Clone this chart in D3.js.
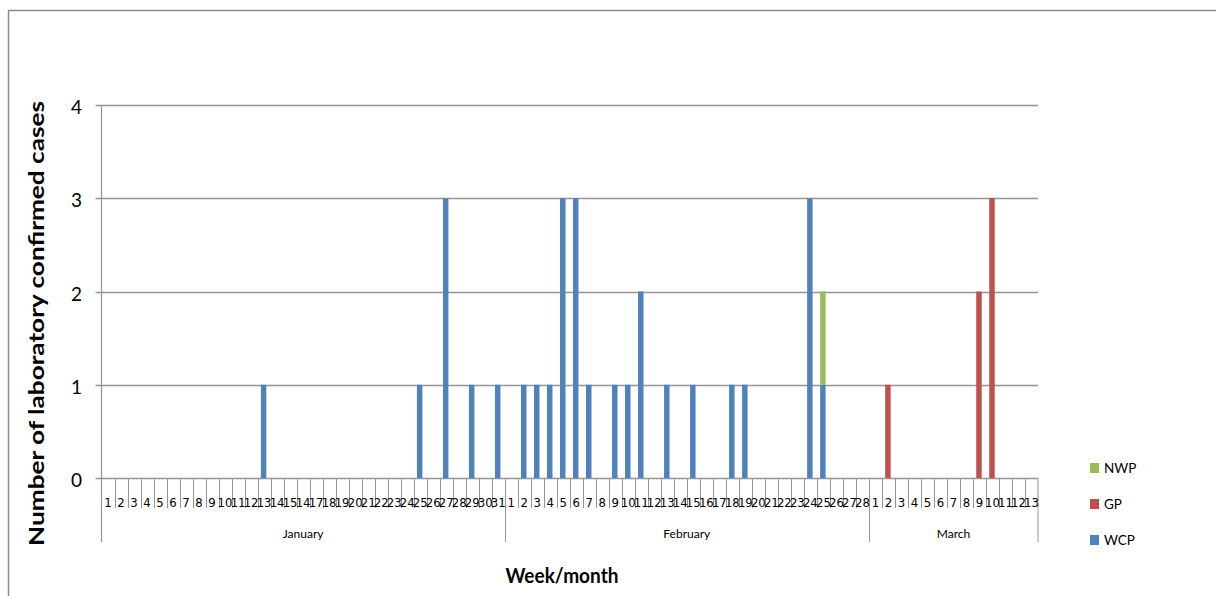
<!DOCTYPE html>
<html>
<head>
<meta charset="utf-8">
<script src="https://cdn.jsdelivr.net/npm/d3@7/dist/d3.min.js"></script>
<style>
  html, body { margin: 0; padding: 0; background: #fff; }
  svg { display: block; }
</style>
</head>
<body>
<svg id="chart" width="1216" height="596"></svg>
<script>
// ---- Data ----
const months = ["January", "February", "March"];
const janDays = ["1","2","3","4","5","6","7","8","9","10","11","12","13","14","15","14","17","18","19","20","21","22","23","24","25","26","27","28","29","30","31"];
const febDays = ["1","2","3","4","5","6","7","8","9","10","11","12","13","14","15","16","17","18","19","20","21","22","23","24","25","26","27","28"];
const marDays = ["1","2","3","4","5","6","7","8","9","10","11","12","13"];

const seriesNames = ["WCP", "GP", "NWP"];
// WCP
const wcpJan = [0,0,0,0,0,0,0,0,0,0,0,0,1,0,0,0,0,0,0,0,0,0,0,0,1,0,3,0,1,0,1];
const wcpFeb = [0,1,1,1,3,3,1,0,1,1,2,0,1,0,1,0,0,1,1,0,0,0,0,3,1,0,0,0];
const wcpMar = [0,0,0,0,0,0,0,0,0,0,0,0,0];
// GP
const gpJan = [0,0,0,0,0,0,0,0,0,0,0,0,0,0,0,0,0,0,0,0,0,0,0,0,0,0,0,0,0,0,0];
const gpFeb = [0,0,0,0,0,0,0,0,0,0,0,0,0,0,0,0,0,0,0,0,0,0,0,0,0,0,0,0];
const gpMar = [0,1,0,0,0,0,0,0,2,3,0,0,0];
// NWP
const nwpJan = [0,0,0,0,0,0,0,0,0,0,0,0,0,0,0,0,0,0,0,0,0,0,0,0,0,0,0,0,0,0,0];
const nwpFeb = [0,0,0,0,0,0,0,0,0,0,0,0,0,0,0,0,0,0,0,0,0,0,0,0,1,0,0,0];
const nwpMar = [0,0,0,0,0,0,0,0,0,0,0,0,0];

const yTicks = [0, 1, 2, 3, 4];
const colors = { WCP: "#4F81BD", GP: "#C0504D", NWP: "#9BBB59" };

(function () {
// ---- Build table ----
const monthDays = [janDays, febDays, marDays];
const table = [];
const wcpAll = wcpJan.concat(wcpFeb, wcpMar);
const gpAll = gpJan.concat(gpFeb, gpMar);
const nwpAll = nwpJan.concat(nwpFeb, nwpMar);
monthDays.forEach((days, m) => {
  days.forEach(d => {
    const i = table.length;
    table.push({ idx: i, month: m, label: d, WCP: wcpAll[i], GP: gpAll[i], NWP: nwpAll[i] });
  });
});

// ---- Layout ----
const svg = d3.select("#chart");
const pLeft = 101.5, pRight = 1038, pTop = 105, pBottom = 478;
const FONT = "Lato, 'Open Sans', sans-serif";
const NARROW = "'Liberation Sans Narrow', 'DejaVu Sans Condensed', sans-serif";

const x = d3.scaleBand()
  .domain(table.map(d => d.idx))
  .range([pLeft, pRight])
  .paddingInner(0.58)
  .paddingOuter(0.29);
const step = x.step();

const y = d3.scaleLinear().domain([0, 4]).range([pBottom, pTop]);

// outer frame
svg.append("path")
  .attr("d", "M8.5,600 V10.5 H1220")
  .attr("fill", "none").attr("stroke", "#8a8a8a").attr("stroke-width", 1.5);

// gridlines
svg.append("g").selectAll("line").data(yTicks).join("line")
  .attr("x1", pLeft - 6).attr("x2", pRight)
  .attr("y1", d => Math.round(y(d)) + 0.5).attr("y2", d => Math.round(y(d)) + 0.5)
  .attr("stroke", "#959595").attr("stroke-width", 1.6);

// y axis line
svg.append("line")
  .attr("x1", pLeft).attr("x2", pLeft).attr("y1", pTop).attr("y2", 542)
  .attr("stroke", "#959595").attr("stroke-width", 1.2);

// y tick labels
svg.append("g").selectAll("text").data(yTicks).join("text")
  .attr("x", 82).attr("y", d => y(d) + 9)
  .attr("text-anchor", "end")
  .attr("font-family", FONT).attr("font-size", 19).attr("fill", "#000")
  .text(d => d);

// category separators
const sep = svg.append("g");
const monthStarts = [];
let acc = 0;
monthDays.forEach(days => { monthStarts.push(acc); acc += days.length; });
monthStarts.push(acc);
for (let i = 1; i < table.length; i++) {
  const xb = x(i) - step * x.paddingInner() / 2;
  const isMonth = monthStarts.includes(i);
  sep.append("line")
    .attr("x1", Math.round(xb) + 0.5).attr("x2", Math.round(xb) + 0.5)
    .attr("y1", pBottom).attr("y2", isMonth ? 542 : 508)
    .attr("stroke", "#959595").attr("stroke-width", 1);
}
sep.append("line")
  .attr("x1", pRight).attr("x2", pRight).attr("y1", pBottom).attr("y2", 542)
  .attr("stroke", "#959595").attr("stroke-width", 1);

// day labels
svg.append("g").selectAll("text").data(table).join("text")
  .attr("x", d => x(d.idx) + x.bandwidth() / 2)
  .attr("y", 507)
  .attr("text-anchor", "middle")
  .attr("font-family", NARROW).attr("font-size", 13).attr("fill", "#000")
  .text(d => d.label);

// month labels
svg.append("g").selectAll("text").data(months).join("text")
  .attr("x", (d, m) => {
    const x0 = x(monthStarts[m]) - step * x.paddingInner() / 2;
    const x1 = m === months.length - 1 ? pRight : x(monthStarts[m + 1]) - step * x.paddingInner() / 2;
    return (x0 + x1) / 2;
  })
  .attr("y", 538)
  .attr("text-anchor", "middle")
  .attr("font-family", FONT).attr("font-size", 12).attr("fill", "#000")
  .text(d => d);

// bars
const stack = d3.stack().keys(seriesNames)(table);
svg.append("g").selectAll("g").data(stack).join("g")
  .attr("fill", s => colors[s.key])
  .selectAll("rect").data(s => s.filter(p => p[1] - p[0] > 0)).join("rect")
  .attr("x", p => x(p.data.idx) - 0.5)
  .attr("width", x.bandwidth())
  .attr("y", p => y(p[1]))
  .attr("height", p => y(p[0]) - y(p[1]));

// axis titles
svg.append("text")
  .attr("transform", `translate(44,${(pTop + 542) / 2}) rotate(-90)`)
  .attr("text-anchor", "middle")
  .attr("font-family", FONT).attr("font-weight", "bold").attr("font-size", 21)
  .attr("textLength", 445).attr("lengthAdjust", "spacingAndGlyphs")
  .attr("fill", "#000")
  .text("Number of laboratory confirmed cases");

svg.append("text")
  .attr("x", 562).attr("y", 583)
  .attr("text-anchor", "middle")
  .attr("font-family", FONT).attr("font-weight", "bold").attr("font-size", 21)
  .attr("textLength", 113).attr("lengthAdjust", "spacingAndGlyphs")
  .attr("fill", "#000")
  .text("Week/month");

// legend
const legendOrder = ["NWP", "GP", "WCP"];
const lg = svg.append("g").selectAll("g").data(legendOrder).join("g")
  .attr("transform", (d, i) => `translate(1090,${463 + i * 36})`);
lg.append("rect").attr("width", 9).attr("height", 10).attr("fill", d => colors[d]);
lg.append("text").attr("x", 14).attr("y", 10)
  .attr("font-family", FONT).attr("font-size", 13.5).attr("fill", "#000")
  .text(d => d);
})();
</script>
</body>
</html>
